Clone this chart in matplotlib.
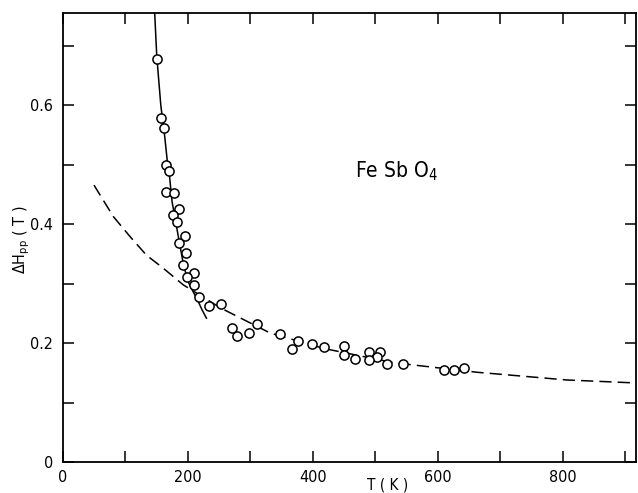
#!/usr/bin/env python3

"""Linewidth Delta H_pp versus temperature for FeSbO4."""

import matplotlib
matplotlib.use('Agg')
import matplotlib.pyplot as plt

# Measured points (T in K, linewidth in tesla)
temps = [150.4, 157.3, 162.6, 165.3, 170.1, 165.3, 177.6, 186.1, 176.0,
         182.9, 195.7, 186.1, 197.3, 192.5, 210.6, 198.9, 210.6, 217.6,
         234.1, 254.1, 270.4, 279.7, 298.4, 310.6, 348.0, 377.0, 367.4,
         399.4, 418.1, 449.6, 449.6, 468.2, 490.6, 508.2, 503.4, 490.6,
         518.9, 544.0, 610.6, 626.1, 642.6]
widths = [0.678, 0.579, 0.562, 0.499, 0.489, 0.455, 0.452, 0.425, 0.416,
          0.404, 0.380, 0.368, 0.351, 0.331, 0.318, 0.311, 0.298, 0.277,
          0.263, 0.266, 0.226, 0.212, 0.217, 0.233, 0.215, 0.204, 0.190,
          0.199, 0.194, 0.195, 0.180, 0.173, 0.185, 0.185, 0.177, 0.171,
          0.165, 0.165, 0.154, 0.154, 0.158]

# Solid curve through the low temperature branch
solidT = [147, 150.5, 157, 163, 168, 171, 175, 182, 188, 193, 200, 208,
          216, 223, 230]
solidH = [0.76, 0.683, 0.60, 0.55, 0.50, 0.48, 0.438, 0.397, 0.362, 0.334,
          0.305, 0.288, 0.272, 0.256, 0.242]

# Dashed curve (high temperature behaviour)
dashT = [50, 81, 108, 134, 161, 193, 253, 332, 418, 530, 663, 807, 917]
dashH = [0.466, 0.413, 0.379, 0.348, 0.326, 0.298, 0.259, 0.217, 0.191,
         0.167, 0.151, 0.138, 0.133]

xticks = [0, 200, 400, 600, 800]
yticks = [0, 0.2, 0.4, 0.6]

plt.rcParams['font.family'] = 'DejaVu Sans'
plt.rcParams['font.stretch'] = 'condensed'

fig = plt.figure(figsize=(6.38, 4.93), dpi=100)
ax = fig.add_axes([0.0983, 0.0629, 0.8981, 0.9113])

ax.plot(dashT, dashH, color='black', linewidth=1.1, dashes=(8, 4))
ax.plot(solidT, solidH, color='black', linewidth=1.1)
ax.plot(temps, widths, linestyle='none', marker='o', markersize=6.6,
        markerfacecolor='white', markeredgecolor='black',
        markeredgewidth=1.1)

ax.set_xlim(0, 917)
ax.set_ylim(0, 0.756)

ax.set_xticks(range(0, 901, 100))
ax.set_xticklabels([str(t) if t in xticks else '' for t in range(0, 901, 100)])
ax.set_yticks([i / 10 for i in range(8)])
ax.set_yticklabels(['0' if i == 0 else ('%.1f' % (i / 10) if i % 2 == 0 else '')
                    for i in range(8)])

ax.tick_params(direction='in', top=True, right=True, length=8, width=1.1,
               labelsize=11.5)
ax.tick_params(axis='x', pad=6)
ax.tick_params(axis='y', pad=7)
for spine in ax.spines.values():
    spine.set_linewidth(1.3)

ax.text(468, 0.489, 'Fe Sb O$_4$', fontsize=15, va='center', ha='left')

fig.text(22 / 638, 1 - 240 / 493, r'$\Delta$H$_{\rm pp}$ ( T )', rotation=90,
         fontsize=11.5, ha='center', va='center')
fig.text(388 / 638, 1 / 493, 'T ( K )', fontsize=11, ha='center',
         va='bottom')

fig.savefig('out.png', dpi=100)
